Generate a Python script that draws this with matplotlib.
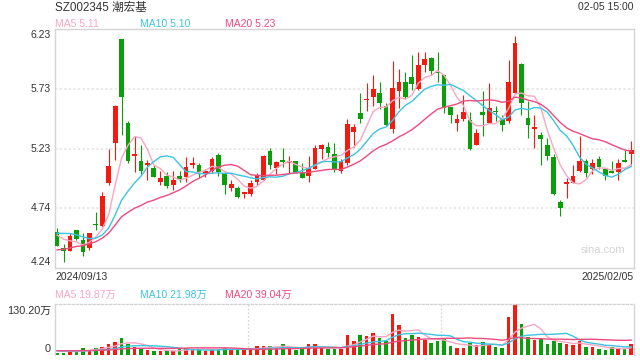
import numpy as np
import pandas as pd
import matplotlib
matplotlib.use("Agg")
import matplotlib.pyplot as plt

plt.rcParams['font.family'] = ['Liberation Sans', 'Noto Sans CJK SC', 'DejaVu Sans']

# daily candles 2024/09/13 .. 2025/02/05 (prices in yuan)
opens = [4.54, 4.41, 4.38, 4.56, 4.47, 4.41, 4.61, 4.59, 4.95, 5.28,
         6.15, 5.45, 5.17, 5.13, 5.10, 5.07, 4.96, 5.01, 4.93, 5.01,
         5.00, 5.10, 5.10, 5.02, 5.05, 5.18, 5.03, 4.91, 4.91, 4.86,
         4.86, 4.96, 4.97, 5.21, 5.07, 5.14, 5.11, 5.13, 5.03, 5.01,
         5.06, 5.23, 5.25, 5.19, 5.05, 5.11, 5.37, 5.53, 5.64, 5.66,
         5.70, 5.59, 5.40, 5.71, 5.79, 5.83, 5.73, 5.93, 5.99, 5.87,
         5.85, 5.58, 5.45, 5.48, 5.47, 5.26, 5.54, 5.45, 5.55, 5.48,
         5.46, 5.70, 5.94, 5.49, 5.40, 5.35, 5.26, 5.16, 4.79, 4.94,
         4.95, 5.05, 5.13, 5.06, 5.15, 5.06, 5.05, 5.04, 5.14, 5.19]
highs = [4.57, 4.44, 4.53, 4.56, 4.53, 4.53, 4.71, 4.87, 5.23, 5.60,
         6.15, 5.46, 5.34, 5.26, 5.14, 5.10, 5.05, 5.04, 5.05, 5.05,
         5.16, 5.16, 5.11, 5.06, 5.16, 5.20, 5.04, 4.97, 4.92, 4.87,
         4.97, 5.03, 5.18, 5.24, 5.13, 5.24, 5.17, 5.13, 5.11, 5.17,
         5.26, 5.27, 5.29, 5.28, 5.15, 5.48, 5.44, 5.70, 5.78, 5.85,
         5.79, 5.61, 5.96, 5.90, 5.87, 6.01, 6.04, 6.04, 6.00, 6.04,
         5.85, 5.58, 5.52, 5.68, 5.54, 5.40, 5.71, 5.78, 5.59, 5.51,
         5.97, 6.17, 5.95, 5.63, 5.51, 5.37, 5.32, 5.19, 4.81, 4.99,
         5.10, 5.34, 5.15, 5.15, 5.17, 5.07, 5.13, 5.15, 5.22, 5.30]
lows = [4.42, 4.29, 4.38, 4.47, 4.34, 4.39, 4.56, 4.58, 4.93, 5.14,
        5.35, 5.11, 5.04, 5.02, 4.97, 5.00, 4.93, 4.91, 4.89, 4.96,
        4.96, 5.07, 4.99, 5.00, 5.03, 5.01, 4.86, 4.88, 4.82, 4.82,
        4.84, 4.93, 4.97, 5.06, 5.02, 5.08, 5.03, 5.03, 4.99, 4.96,
        5.06, 5.15, 5.16, 5.04, 5.03, 5.10, 5.25, 5.45, 5.55, 5.59,
        5.56, 5.42, 5.36, 5.57, 5.65, 5.72, 5.72, 5.87, 5.85, 5.79,
        5.53, 5.45, 5.38, 5.46, 5.22, 5.26, 5.34, 5.45, 5.46, 5.38,
        5.45, 5.70, 5.51, 5.32, 5.24, 5.10, 5.14, 4.85, 4.67, 4.82,
        4.95, 5.04, 5.00, 5.02, 5.06, 4.97, 5.03, 4.97, 5.12, 5.10]
closes = [4.42, 4.38, 4.51, 4.48, 4.37, 4.53, 4.60, 4.84, 5.09, 5.59,
          5.66, 5.13, 5.19, 5.05, 5.11, 5.00, 4.99, 4.92, 4.97, 4.98,
          5.08, 5.11, 5.04, 5.05, 5.15, 5.04, 4.93, 4.94, 4.83, 4.87,
          4.95, 5.01, 5.17, 5.10, 5.12, 5.12, 5.13, 5.04, 4.99, 5.07,
          5.24, 5.26, 5.20, 5.06, 5.13, 5.44, 5.41, 5.48, 5.65, 5.73,
          5.61, 5.43, 5.74, 5.79, 5.66, 5.77, 5.93, 5.98, 5.88, 5.86,
          5.57, 5.51, 5.48, 5.54, 5.23, 5.36, 5.51, 5.57, 5.54, 5.43,
          5.79, 6.11, 5.61, 5.43, 5.41, 5.31, 5.17, 4.86, 4.74, 4.96,
          5.01, 5.13, 5.03, 5.11, 5.08, 5.01, 5.03, 5.11, 5.12, 5.22]
# volume, 万手
volumes = [6.0, 5.2, 12, 9.5, 17, 14, 18, 21, 28, 34,
           44, 28, 21, 15, 14, 10, 10, 9.5, 9.5, 16,
           18, 15, 14, 10, 14, 16, 19, 12, 14, 13,
           18, 22, 22, 24, 17, 27, 17, 12, 15, 28,
           28, 18, 15, 15, 15, 51, 35, 51, 48, 56,
           43, 36, 105, 77, 43, 51, 46, 38, 30, 35,
           41, 22, 17, 17, 30, 25, 33, 28, 20, 17,
           97, 130, 79, 46, 38, 41, 28, 35, 30, 28,
           25, 35, 20, 20, 15, 12, 20, 17, 16, 28]
# sessions before the window (only feed the moving averages)
prior_closes = [4.30, 4.27, 4.24, 4.22, 4.23, 4.25, 4.26, 4.24, 4.25, 4.26,
                4.40, 4.52, 4.59, 4.54, 4.68, 4.55, 4.58, 4.52, 4.50]
prior_volumes = [10, 12, 9, 11, 13, 10, 12, 14, 11, 10,
                 13, 12, 9, 11, 14, 12, 10, 13, 11]

price_ticks = [4.24, 4.74, 5.23, 5.73, 6.23]
vol_ticks = ['0', '130.20万']
vol_max = 130.2
first_date, last_date = '2024/09/13', '2025/02/05'
ma_labels = ['MA5 5.11', 'MA10 5.10', 'MA20 5.23']
vol_ma_labels = ['MA5 19.87万', 'MA10 21.98万', 'MA20 39.04万']

RED, GREEN = '#f31a0f', '#0a9e0a'
MA_COLORS = ['#f8a6c2', '#3cc4e2', '#ef4a7e']
FRAME = '#d4d4d4'
TXT = '#333333'

o, h, l, c = map(np.array, (opens, highs, lows, closes))
v = np.array(volumes)
n = len(c)
x = np.arange(n)
up = c >= o
cols = np.where(up, RED, GREEN)

allc = pd.Series(prior_closes + closes)
allv = pd.Series(prior_volumes + volumes)
ma = [allc.rolling(k).mean().values[-n:] for k in (5, 10, 20)]
vma = [allv.rolling(k).mean().values[-n:] for k in (5, 10, 20)]

fig = plt.figure(figsize=(6.4, 3.6), dpi=100)
ax = fig.add_axes([0.0852, 0.2556, 0.9055, 0.6639])
axv = fig.add_axes([0.0852, 0.0139, 0.9055, 0.1417])

# price panel
ax.vlines(x, l, h, colors=cols, lw=0.8, zorder=2)
body = np.maximum(np.abs(c - o), 0.006)
ax.bar(x, body, bottom=np.minimum(o, c), width=0.74, color=cols, zorder=3)
for m, col in zip(ma, MA_COLORS):
    ax.plot(x, m, color=col, lw=1.0, zorder=4)
ax.set_xlim(-0.4, n - 0.55)
ax.set_ylim(price_ticks[0], price_ticks[-1])
for t in price_ticks[1:-1]:
    ax.axhline(t, color='#e2e2e2', lw=1.1, ls=(0, (1.5, 1.5)), zorder=1)
ax.set_xticks([])
ax.set_yticks([])
for s in ax.spines.values():
    s.set_color(FRAME)
    s.set_linewidth(1.0)
for i, t in enumerate(price_ticks):
    va = 'bottom' if i == 0 else ('top' if i == len(price_ticks) - 1 else 'center')
    off = 0.012 if i == 0 else (-0.012 if i == len(price_ticks) - 1 else 0)
    ax.text(-0.006, t + off, f'{t:.2f}', transform=ax.get_yaxis_transform(),
            ha='right', va=va, fontsize=7.5, color=TXT)
ax.text(0.985, 0.075, 'sina.com', transform=ax.transAxes, ha='right',
        va='center', fontsize=8, color='#d4d4d4')

# volume panel
axv.bar(x, v, width=0.55, color=cols, zorder=2)
for m, col in zip(vma, MA_COLORS):
    axv.plot(x, m, color=col, lw=1.0, zorder=3)
axv.set_xlim(ax.get_xlim())
axv.set_ylim(0, vol_max)
axv.set_xticks([])
axv.set_yticks([])
for s in axv.spines.values():
    s.set_color(FRAME)
    s.set_linewidth(1.0)
axv.spines['top'].set_linestyle((0, (1.5, 1.5)))
axv.spines['bottom'].set_visible(False)
for fx in (1 / 3, 2 / 3):
    axv.plot([fx, fx], [0, 1], transform=axv.transAxes, color='#d6d6d6',
             lw=0.9, ls=(0, (1.5, 1.5)), zorder=1)
axv.text(-0.006, 0.11, vol_ticks[0], transform=axv.transAxes, ha='right',
         va='center', fontsize=7.8, color=TXT)
axv.text(-0.006, 0.86, vol_ticks[1], transform=axv.transAxes, ha='right',
         va='center', fontsize=7.8, color=TXT)

# header / legend texts (figure pixel positions)
def ftext(px, py, s, **kw):
    fig.text(px / 640, 1 - py / 360, s, va='center', **kw)

ftext(55, 7.5, 'SZ002345 潮宏基', fontsize=8.4, color=TXT)
ftext(634, 7.5, '02-05 15:00', fontsize=7.5, color=TXT, ha='right')
for px, s, col in zip((55, 140, 225), ma_labels, MA_COLORS):
    ftext(px, 24, s, fontsize=7.5, color=col)
ftext(55, 277, first_date, fontsize=7.5, color=TXT)
ftext(634, 277, last_date, fontsize=7.5, color=TXT, ha='right')
for px, s, col in zip((55, 140, 225), vol_ma_labels, MA_COLORS):
    ftext(px, 295, s, fontsize=7.5, color=col)

fig.savefig('out.png', dpi=100, facecolor='white')
